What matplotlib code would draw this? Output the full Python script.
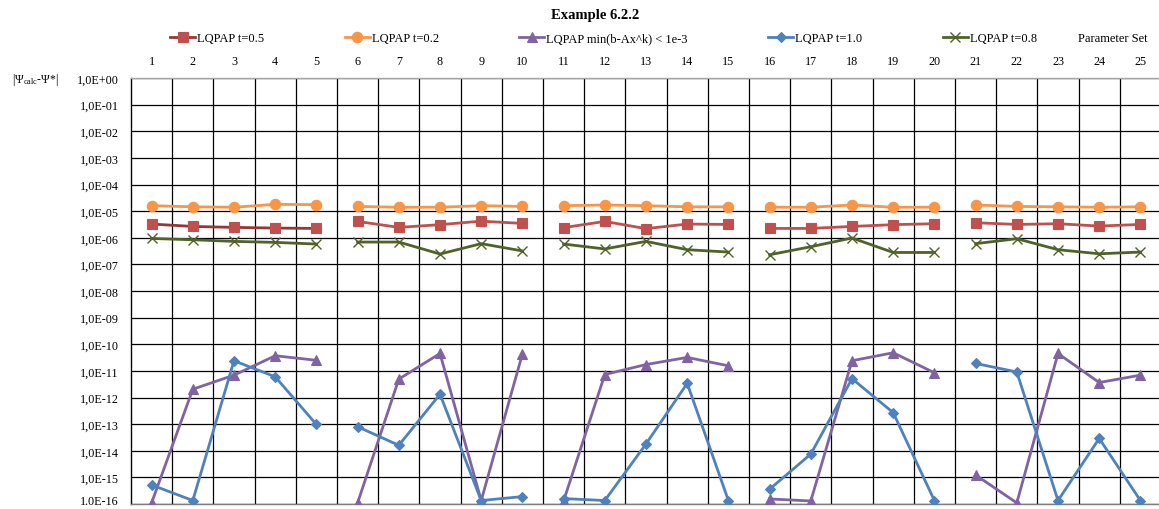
import numpy as np
import matplotlib
matplotlib.use("Agg")
import matplotlib.pyplot as plt
import matplotlib.transforms as mtransforms
from matplotlib.lines import Line2D

plt.rcParams['font.family'] = ['Liberation Serif', 'DejaVu Serif']
plt.rcParams['mathtext.fontset'] = 'custom'
plt.rcParams['mathtext.rm'] = 'Liberation Serif'
plt.rcParams['mathtext.it'] = 'Liberation Serif:italic'

# Parameter sets 1..25, evaluated in five blocks of five
param_sets = list(range(1, 26))
group_size = 5

err_t05 = [3.27e-6, 2.66e-6, 2.45e-6, 2.31e-6, 2.24e-6,
           4.1e-6, 2.45e-6, 3.1e-6, 4.2e-6, 3.45e-6,
           2.4e-6, 4.1e-6, 2.2e-6, 3.27e-6, 3.16e-6,
           2.24e-6, 2.24e-6, 2.66e-6, 3.1e-6, 3.36e-6,
           3.66e-6, 3.16e-6, 3.36e-6, 2.75e-6, 3.16e-6]

err_t02 = [1.6e-5, 1.45e-5, 1.4e-5, 1.8e-5, 1.75e-5,
           1.5e-5, 1.4e-5, 1.4e-5, 1.6e-5, 1.5e-5,
           1.6e-5, 1.7e-5, 1.6e-5, 1.45e-5, 1.45e-5,
           1.4e-5, 1.4e-5, 1.7e-5, 1.4e-5, 1.4e-5,
           1.7e-5, 1.5e-5, 1.45e-5, 1.4e-5, 1.45e-5]

err_min = [1.1e-16, 2.05e-12, 6.9e-12, 3.7e-11, 2.5e-11,
           1.1e-16, 4.9e-12, 4.5e-11, 1.35e-16, 4.3e-11,
           1.3e-16, 7.3e-12, 1.73e-11, 3.2e-11, 1.55e-11,
           1.55e-16, 1.3e-16, 2.4e-11, 4.8e-11, 8.5e-12,
           1.23e-15, 1.1e-16, 4.5e-11, 3.65e-12, 6.9e-12]

err_t10 = [5.2e-16, 1.35e-16, 2.4e-11, 6.0e-12, 9.7e-14,
           8.0e-14, 1.6e-14, 1.33e-12, 1.35e-16, 1.9e-16,
           1.6e-16, 1.35e-16, 1.8e-14, 3.4e-12, 1.35e-16,
           3.6e-16, 7.5e-15, 5.1e-12, 2.7e-13, 1.35e-16,
           1.9e-11, 9.1e-12, 1.35e-16, 2.9e-14, 1.35e-16]

err_t08 = [9.4e-7, 8.4e-7, 7.3e-7, 6.7e-7, 5.8e-7,
           6.9e-7, 6.9e-7, 2.45e-7, 6.0e-7, 3.2e-7,
           5.8e-7, 3.8e-7, 7.3e-7, 3.56e-7, 2.9e-7,
           2.3e-7, 4.6e-7, 9.8e-7, 2.8e-7, 2.8e-7,
           6.0e-7, 9.2e-7, 3.56e-7, 2.5e-7, 2.9e-7]

y_ticks = [10.0 ** -k for k in range(0, 17)]
y_tick_labels = ["1,0E+00", "1,0E-01", "1,0E-02", "1,0E-03", "1,0E-04",
                 "1,0E-05", "1,0E-06", "1,0E-07", "1,0E-08", "1,0E-09",
                 "1,0E-10", "1,0E-11", "1,0E-12", "1,0E-13", "1,0E-14",
                 "1,0E-15", "1.0E-16"]

series = [
    ("LQPAP t=0.5", err_t05, "#C0504D", "s", 6.5),
    ("LQPAP t=0.2", err_t02, "#F79646", "o", 7.5),
    ("LQPAP min(b-Ax^k) < 1e-3", err_min, "#8064A2", "^", 7.5),
    ("LQPAP t=1.0", err_t10, "#4F81BD", "D", 5.5),
    ("LQPAP t=0.8", err_t08, "#4F6228", "x", 6.5),
]

fig = plt.figure(figsize=(11.59, 5.10), dpi=100)
ax = fig.add_axes([131 / 1159, 5 / 510, 1030 / 1159, 426 / 510])

ax.set_yscale("log")
ax.set_ylim(1e-16, 1.0)
ax.set_xlim(0.5, 25.5)

# grid: decades horizontally, parameter-set boundaries vertically
for yv in y_ticks:
    ax.axhline(yv, color="black", lw=0.9, zorder=1)
for xb in np.arange(1.5, 25.5, 1.0):
    ax.axvline(xb, color="black", lw=0.9, zorder=1)

x = np.array(param_sets)
for label, vals, color, marker, ms in series:
    vals = np.array(vals)
    for g in range(0, len(x), group_size):
        xs = x[g:g + group_size]
        ys = vals[g:g + group_size]
        line_color = color
        if label == "LQPAP t=0.5" and g == 0:
            line_color = "#953735"
        ax.plot(xs, ys, color=line_color, lw=2.0, zorder=3,
                solid_joinstyle="round")
        if marker == "x":
            ax.plot(xs, ys, ls="none", marker="x", ms=ms, mew=1.0,
                    color=color, zorder=4)
        else:
            ax.plot(xs, ys, ls="none", marker=marker, ms=ms, mew=0.8,
                    color=color, mec=color, zorder=4)

# category axis along the top
ax.xaxis.tick_top()
ax.set_xticks(param_sets)
ax.set_xticklabels([str(p) for p in param_sets], fontsize=8.7)
ax.tick_params(axis="x", length=0, pad=8)
ax.set_yticks(y_ticks)
ax.set_yticklabels(y_tick_labels, fontsize=8.7)
ax.yaxis.set_minor_locator(matplotlib.ticker.NullLocator())
ax.tick_params(axis="y", length=0, pad=9)

# lift the lowest tick label a little so it stays inside the canvas
lowest = ax.get_yticklabels()[-1]
lowest.set_transform(lowest.get_transform() +
                     mtransforms.ScaledTranslation(0, 4 / 100, fig.dpi_scale_trans))

ax.spines["right"].set_visible(False)
ax.spines["top"].set_color("#A6A6A6")
ax.spines["bottom"].set_color("#7F7F7F")
ax.spines["left"].set_color("black")
for s in ax.spines.values():
    s.set_linewidth(1.0)

fig.text(595 / 1159, 1 - 15 / 510, "Example 6.2.2", ha="center", va="center",
         fontsize=10.5, fontweight="bold")

handles = []
for label, vals, color, marker, ms in series:
    handles.append(Line2D([], [], color=color if label != "LQPAP t=0.5" else "#953735",
                          lw=2.0, marker=marker, ms=ms,
                          mfc=color, mec=color, mew=1.0 if marker == "x" else 0.8,
                          label=label))
leg = fig.legend(handles=handles, loc="center left", ncol=5,
                 bbox_to_anchor=(170 / 1159, 1 - 39 / 510), frameon=False,
                 fontsize=9, handlelength=2.0, handletextpad=0.15,
                 columnspacing=6.45, borderaxespad=0, borderpad=0)

fig.text(1078 / 1159, 1 - 39 / 510, "Parameter Set", ha="left", va="center",
         fontsize=9)
fig.text(12 / 1159, 1 - 80 / 510, r"|$\Psi_{\rm calc}$-$\Psi$*|", ha="left",
         va="center", fontsize=8.5)

fig.savefig("out.png", dpi=100)
